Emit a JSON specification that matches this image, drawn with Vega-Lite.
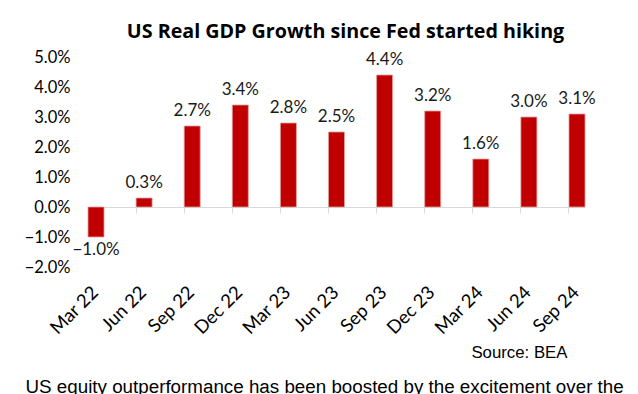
{
  "$schema": "https://vega.github.io/schema/vega-lite/v6.json",
  "width": 497,
  "height": 210,
  "autosize": "none",
  "padding": {"left": 88, "top": 57, "right": 53, "bottom": 127},
  "background": "white",
  "config": {"view": {"stroke": null}},
  "title": {
    "text": "US Real GDP Growth since Fed started hiking",
    "font": "Open Sans",
    "fontSize": 19.7,
    "fontWeight": "bold",
    "color": "#000000",
    "anchor": "middle",
    "baseline": "alphabetic",
    "dx": 9,
    "dy": 29,
    "offset": 20
  },
  "data": {
    "values": [
      {"q": "Mar 22", "g": -0.010},
      {"q": "Jun 22", "g": 0.003},
      {"q": "Sep 22", "g": 0.027},
      {"q": "Dec 22", "g": 0.034},
      {"q": "Mar 23", "g": 0.028},
      {"q": "Jun 23", "g": 0.025},
      {"q": "Sep 23", "g": 0.044},
      {"q": "Dec 23", "g": 0.032},
      {"q": "Mar 24", "g": 0.016},
      {"q": "Jun 24", "g": 0.030},
      {"q": "Sep 24", "g": 0.031}
    ]
  },
  "encoding": {
    "x": {
      "field": "q",
      "type": "ordinal",
      "sort": null,
      "scale": {"paddingInner": 0.667, "paddingOuter": 0},
      "axis": {
        "orient": "bottom",
        "offset": -60,
        "bandPosition": 0,
        "domainColor": "#d9d9d9",
        "domainWidth": 1,
        "tickColor": "#d9d9d9",
        "tickSize": 6,
        "labelAngle": -45,
        "labelAlign": "right",
        "labelBaseline": "middle",
        "labelOffset": -1,
        "labelPadding": 76,
        "labelFont": "Lato",
        "labelFontSize": 18.5,
        "labelColor": "#000000",
        "title": "Source: BEA",
        "titleFont": "Liberation Sans",
        "titleFontSize": 16.8,
        "titleFontWeight": "normal",
        "titleColor": "#000000",
        "titleAlign": "right",
        "titleBaseline": "alphabetic",
        "titleAnchor": null,
        "titleX": 479,
        "titleY": 150
      }
    },
    "y": {
      "field": "g",
      "type": "quantitative",
      "scale": {"domain": [-0.02, 0.05], "nice": false, "zero": false},
      "axis": {
        "values": [-0.02, -0.01, 0, 0.01, 0.02, 0.03, 0.04, 0.05],
        "format": ".1%",
        "domain": false,
        "ticks": false,
        "tickSize": 0,
        "grid": false,
        "labelPadding": 18,
        "labelFont": "Lato",
        "labelFontSize": 16.5,
        "labelColor": "#000000",
        "title": "US equity outperformance has been boosted by the excitement over the",
        "titleFont": "Liberation Sans",
        "titleFontSize": 18.8,
        "titleFontWeight": "normal",
        "titleColor": "#000000",
        "titleAngle": 0,
        "titleAlign": "left",
        "titleBaseline": "alphabetic",
        "titleAnchor": null,
        "titleX": -63,
        "titleY": 335
      }
    }
  },
  "layer": [
    {
      "mark": {"type": "bar", "color": "#C00000", "stroke": "#e3a0a0", "strokeWidth": 0.8}
    },
    {
      "transform": [{"filter": "datum.g >= 0"}],
      "mark": {"type": "text", "baseline": "alphabetic", "dy": -10, "font": "Lato", "fontSize": 17, "color": "#1a1a1a"},
      "encoding": {"text": {"field": "g", "format": ".1%"}}
    },
    {
      "transform": [{"filter": "datum.g < 0"}],
      "mark": {"type": "text", "baseline": "alphabetic", "dy": 18, "font": "Lato", "fontSize": 17, "color": "#1a1a1a"},
      "encoding": {"text": {"field": "g", "format": ".1%"}}
    }
  ]
}
